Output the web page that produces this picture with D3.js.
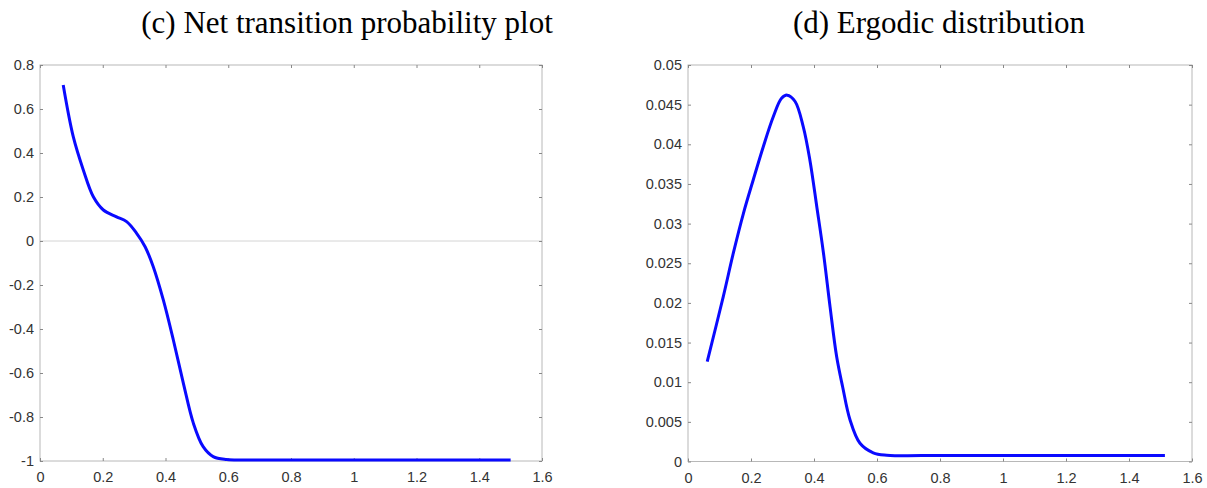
<!DOCTYPE html>
<html><head><meta charset="utf-8">
<script src="https://cdn.jsdelivr.net/npm/d3@7"></script>
<style>body{margin:0;background:#fff;}svg{display:block;}</style>
</head><body>
<svg id="chart" width="1207" height="488"></svg>
<script>
// Panel (c): net transition probability
const netX = [0.074,0.106,0.138,0.170,0.202,0.244,0.276,0.308,0.335,0.361,0.393,0.425,0.457,0.489,0.520,0.552,0.595,0.65,0.8,1.0,1.2,1.4,1.5];
const netY = [0.709,0.474,0.323,0.201,0.141,0.110,0.088,0.035,-0.026,-0.117,-0.268,-0.450,-0.647,-0.829,-0.935,-0.980,-0.993,-0.995,-0.995,-0.995,-0.995,-0.995,-0.995];
// Panel (d): ergodic distribution
const ergX = [0.061,0.112,0.144,0.176,0.207,0.239,0.271,0.297,0.315,0.340,0.366,0.387,0.409,0.430,0.451,0.472,0.491,0.514,0.546,0.588,0.631,0.8,1.0,1.2,1.4,1.514];
const ergY = [0.0126,0.0208,0.0263,0.0313,0.0355,0.0397,0.0435,0.0458,0.0462,0.0454,0.0422,0.0380,0.0321,0.0263,0.0195,0.0132,0.0094,0.0053,0.0023,0.0011,0.0008,0.00076,0.00076,0.00076,0.00076,0.00076];

const xTicks = [0,0.2,0.4,0.6,0.8,1,1.2,1.4,1.6];
const netTicks = [0.8,0.6,0.4,0.2,0,-0.2,-0.4,-0.6,-0.8,-1];
const ergTicks = [0.05,0.045,0.04,0.035,0.03,0.025,0.02,0.015,0.01,0.005,0];
const titles = ["(c) Net transition probability plot","(d) Ergodic distribution"];

const svg = d3.select("#chart");
const fmt = d => String(+d.toFixed(4)).replace("\u2212","-");

function panel(cfg){
  const g = svg.append("g");
  const x = d3.scaleLinear().domain([0,1.6]).range([cfg.x0,cfg.x1]);
  const y = d3.scaleLinear().domain(cfg.yDom).range([cfg.yb,cfg.yt]);
  const frame = "#b8b8b8";
  if (cfg.zero){
    g.append("line").attr("x1",x(0)).attr("x2",x(1.6)).attr("y1",y(0)).attr("y2",y(0))
      .attr("stroke","#d4d4d4").attr("stroke-width",1);
  }
  g.append("rect").attr("x",x(0)).attr("y",y(cfg.yDom[1])).attr("width",x(1.6)-x(0))
    .attr("height",y(cfg.yDom[0])-y(cfg.yDom[1])).attr("fill","none").attr("stroke",frame).attr("stroke-width",1);
  const ax = d3.axisBottom(x).tickValues(cfg.xTicks).tickSize(-3).tickPadding(11).tickFormat(fmt);
  const axT = d3.axisTop(x).tickValues(cfg.xTicks).tickSize(-3).tickFormat("");
  const ay = d3.axisLeft(y).tickValues(cfg.yTicks).tickSize(-3).tickPadding(6).tickFormat(fmt);
  const ayR = d3.axisRight(y).tickValues(cfg.yTicks).tickSize(-3).tickFormat("");
  const style = s => {
    s.select(".domain").remove();
    s.selectAll(".tick line").attr("stroke","#888");
    s.selectAll("text").attr("fill","#333").style("font-family","'Liberation Sans',Arial,sans-serif").style("font-size","14.5px");
  };
  g.append("g").attr("transform",`translate(0,${y(cfg.yDom[0])})`).call(ax).call(style);
  g.append("g").attr("transform",`translate(0,${y(cfg.yDom[1])})`).call(axT).call(style);
  g.append("g").attr("transform",`translate(${x(0)},0)`).call(ay).call(style);
  g.append("g").attr("transform",`translate(${x(1.6)},0)`).call(ayR).call(style);
  const pts = cfg.xs.map((v,i)=>[v,cfg.ys[i]]);
  g.append("path").datum(pts)
    .attr("d", d3.line().x(d=>x(d[0])).y(d=>y(d[1])).curve(d3.curveCatmullRom.alpha(0.5)))
    .attr("fill","none").attr("stroke","#0a0aff").attr("stroke-width",3).attr("stroke-linejoin","round");
  svg.append("text").attr("x",cfg.tx).attr("y",33).attr("text-anchor","middle")
    .style("font-family","'Liberation Serif','DejaVu Serif',serif").style("font-size","31px").attr("fill","#000")
    .text(cfg.title);
}

panel({x0:40,x1:542,yt:65,yb:461,yDom:[-1,0.8],xs:netX,ys:netY,xTicks:xTicks,yTicks:netTicks,zero:true,title:titles[0],tx:347});
panel({x0:688,x1:1192,yt:65,yb:461.5,yDom:[0,0.05],xs:ergX,ys:ergY,xTicks:xTicks,yTicks:ergTicks,zero:false,title:titles[1],tx:939});
</script>
</body></html>
